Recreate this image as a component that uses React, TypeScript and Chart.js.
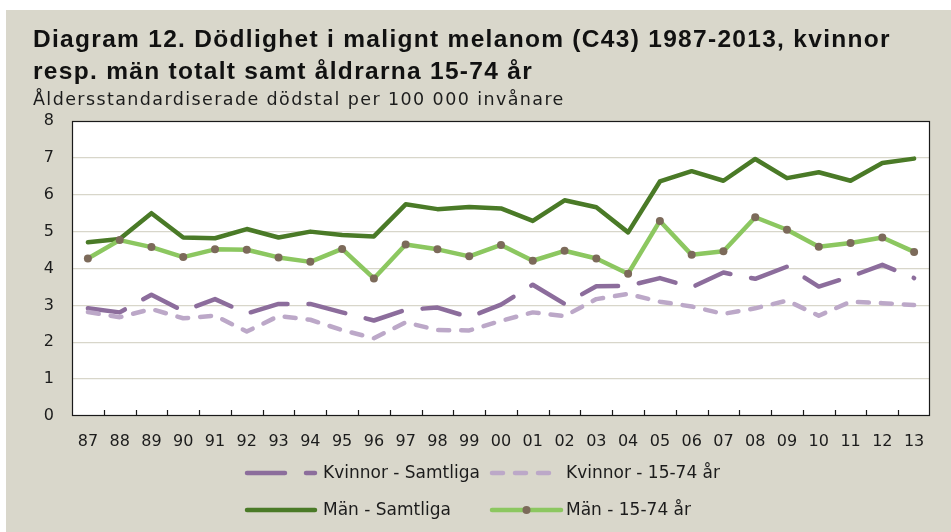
import React, { useEffect, useRef } from "react";
import { Chart, registerables } from "chart.js";

Chart.register(...registerables);

const years = ["87","88","89","90","91","92","93","94","95","96","97","98","99","00","01","02","03","04","05","06","07","08","09","10","11","12","13"];
const kvinnorSamtliga = [2.92,2.81,3.29,2.85,3.17,2.78,3.04,3.04,2.81,2.59,2.88,2.94,2.68,3.02,3.56,3.04,3.52,3.53,3.74,3.49,3.89,3.72,4.05,3.51,3.78,4.10,3.74];
const kvinnor1574 = [2.82,2.68,2.90,2.65,2.72,2.29,2.71,2.61,2.33,2.11,2.54,2.33,2.32,2.58,2.81,2.71,3.17,3.31,3.10,2.97,2.77,2.92,3.13,2.72,3.10,3.06,3.01];
const manSamtliga = [4.71,4.80,5.50,4.84,4.82,5.07,4.84,5.00,4.91,4.87,5.74,5.61,5.67,5.63,5.29,5.85,5.66,4.98,6.36,6.64,6.38,6.97,6.45,6.61,6.38,6.86,6.98];
const man1574 = [4.27,4.77,4.58,4.31,4.52,4.51,4.30,4.18,4.53,3.73,4.65,4.52,4.33,4.64,4.21,4.48,4.27,3.86,5.29,4.37,4.47,5.39,5.05,4.59,4.69,4.84,4.45];
const seriesNames = ["Kvinnor - Samtliga", "Kvinnor - 15-74 år", "Män - Samtliga", "Män - 15-74 år"];
const yTicks = [0, 1, 2, 3, 4, 5, 6, 7, 8];

const titleLines = ["Diagram 12. Dödlighet i malignt melanom (C43) 1987-2013, kvinnor", "resp. män totalt samt åldrarna 15-74 år"];
const subtitle = "Åldersstandardiserade dödstal per 100 000 invånare";

const BG = "#D9D7CB";
const FONT = "'DejaVu Sans', sans-serif";
const TEXT = "#1c1c1c";

const plotDecor = {
  id: "plotDecor",
  beforeDraw(chart: any) {
    const { ctx, chartArea: a } = chart;
    ctx.save();
    ctx.fillStyle = "#ffffff";
    ctx.fillRect(a.left, a.top, a.right - a.left, a.bottom - a.top);
    ctx.restore();
  },
  afterDraw(chart: any) {
    const { ctx, chartArea: a } = chart;
    const xs = chart.scales.x;
    ctx.save();
    ctx.strokeStyle = "#1a1a1a";
    ctx.lineWidth = 1.2;
    ctx.strokeRect(a.left + 0.5, a.top + 0.5, a.right - a.left - 1, a.bottom - a.top - 1);
    for (let i = 1; i < years.length; i++) {
      const x = Math.round((xs.getPixelForValue(i - 1) + xs.getPixelForValue(i)) / 2) + 0.5;
      ctx.beginPath();
      ctx.moveTo(x, a.bottom);
      ctx.lineTo(x, a.bottom - 6);
      ctx.stroke();
    }
    ctx.restore();

    const ds = chart.data.datasets;
    const cols = [[239, 311, 317], [484, 557, 560]];
    const rows = [463, 500];
    ctx.save();
    ds.forEach((d: any, i: number) => {
      const [x0, x1, tx] = cols[i % 2];
      const y = rows[Math.floor(i / 2)];
      ctx.strokeStyle = d.borderColor;
      ctx.lineWidth = d.borderWidth;
      ctx.lineCap = "round";
      ctx.setLineDash(d.borderDash || []);
      ctx.beginPath();
      ctx.moveTo(x0 + 2, y);
      ctx.lineTo(x1 - 2, y);
      ctx.stroke();
      ctx.setLineDash([]);
      if (d.pointRadius > 0) {
        ctx.fillStyle = d.pointBackgroundColor;
        ctx.beginPath();
        ctx.arc((x0 + x1) / 2, y, d.pointRadius, 0, Math.PI * 2);
        ctx.fill();
      }
      ctx.fillStyle = TEXT;
      ctx.font = "17px " + FONT;
      ctx.textBaseline = "middle";
      ctx.textAlign = "left";
      ctx.fillText(d.label, tx, y + 1);
    });
    ctx.restore();
  },
};

export default function App() {
  const ref = useRef<HTMLCanvasElement>(null);
  useEffect(() => {
    if (!ref.current) return;
    const chart = new Chart(ref.current, {
      type: "line",
      data: {
        labels: years,
        datasets: [
          {
            label: seriesNames[0],
            data: kvinnorSamtliga,
            borderColor: "#8C6D9C",
            borderWidth: 4.5,
            borderDash: [38, 21],
            borderCapStyle: "round",
            borderJoinStyle: "round",
            pointRadius: 0,
            order: 4,
          },
          {
            label: seriesNames[1],
            data: kvinnor1574,
            borderColor: "#BCA8C8",
            borderWidth: 4.5,
            borderDash: [11, 12],
            borderCapStyle: "round",
            borderJoinStyle: "round",
            pointRadius: 0,
            order: 3,
          },
          {
            label: seriesNames[2],
            data: manSamtliga,
            borderColor: "#4A7A27",
            borderWidth: 4.5,
            borderCapStyle: "round",
            borderJoinStyle: "round",
            pointRadius: 0,
            order: 2,
          },
          {
            label: seriesNames[3],
            data: man1574,
            borderColor: "#8CC760",
            borderWidth: 4.5,
            borderCapStyle: "round",
            borderJoinStyle: "round",
            pointRadius: 4,
            pointBackgroundColor: "#7C6A5A",
            pointBorderWidth: 0,
            order: 1,
          },
        ] as any,
      },
      options: {
        animation: false,
        responsive: false,
        layout: { padding: { top: 111, right: 21, bottom: 76, left: 0 } },
        plugins: { legend: { display: false }, tooltip: { enabled: false } },
        scales: {
          x: {
            type: "category",
            offset: true,
            grid: { display: false, drawTicks: false },
            border: { display: false },
            ticks: {
              color: TEXT,
              font: { family: FONT, size: 16 },
              padding: 16,
              maxRotation: 0,
              autoSkip: false,
            },
            afterFit: (s: any) => { s.height = 40; },
          },
          y: {
            min: 0,
            max: 8,
            afterBuildTicks: (s: any) => { s.ticks = yTicks.map((v) => ({ value: v })); },
            grid: { color: "#D8D6CA", lineWidth: 1.3, drawTicks: false },
            border: { display: false },
            ticks: {
              color: TEXT,
              font: { family: FONT, size: 16 },
              padding: 18,
            },
            afterFit: (s: any) => { s.width = 66; },
          },
        },
      } as any,
      plugins: [plotDecor],
    });
    return () => chart.destroy();
  }, []);

  return (
    <div style={{ position: "fixed", left: 0, top: 0, width: 951, height: 532, background: "#ffffff" }}>
      <div style={{ position: "absolute", left: 6, top: 10, width: 945, height: 522, background: BG }}>
        <canvas ref={ref} width={945} height={522} style={{ position: "absolute", left: 0, top: 0, width: 945, height: 522 }} />
        <div
          style={{
            position: "absolute",
            left: 27,
            top: 13,
            font: "bold 24.5px 'Liberation Sans', Arial, sans-serif",
            letterSpacing: "1.3px",
            lineHeight: "32px",
            color: "#111",
            whiteSpace: "nowrap",
          }}
        >
          {titleLines.map((t, i) => (
            <div key={i}>{t}</div>
          ))}
        </div>
        <div
          style={{
            position: "absolute",
            left: 27,
            top: 79,
            font: "17.5px " + FONT,
            letterSpacing: "1.4px",
            lineHeight: "20px",
            color: TEXT,
            whiteSpace: "nowrap",
          }}
        >
          {subtitle}
        </div>
      </div>
    </div>
  );
}
